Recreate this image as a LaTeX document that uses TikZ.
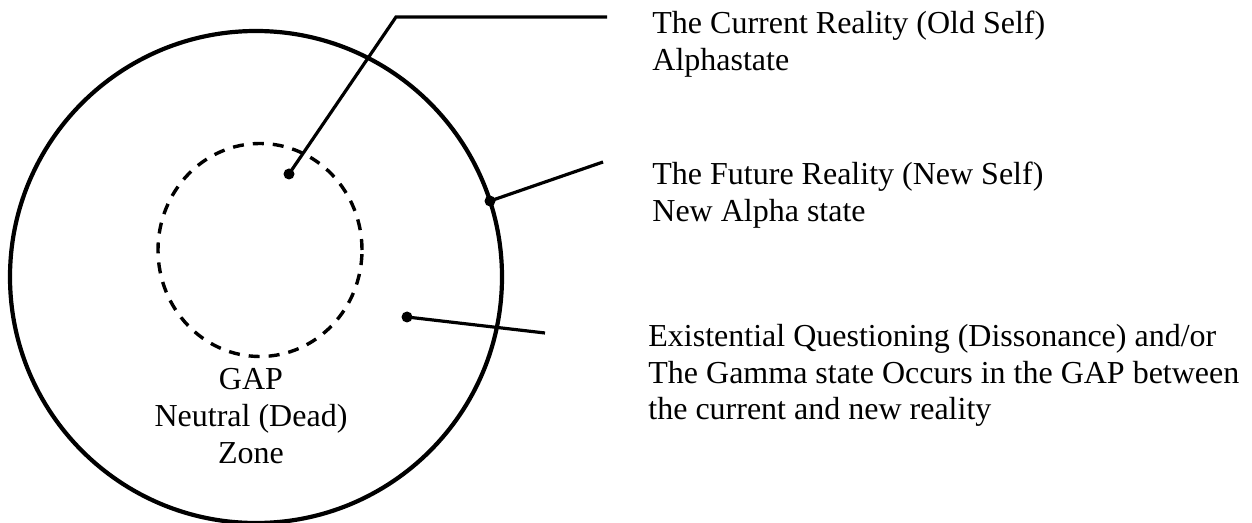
\documentclass[tikz,border=0pt]{standalone}
\usepackage{fontspec}
\setmainfont{Liberation Serif}
\begin{document}
\begin{tikzpicture}[x=0.5pt,y=-0.5pt,
  lbl/.style={inner sep=0pt,font=\fontsize{16}{18.25}\selectfont},
  dotnode/.style={circle,fill=black,inner sep=0pt,minimum size=5.5pt},
  conn/.style={line width=1.6pt},
]
\useasboundingbox (0,0) rectangle (1252,523);
% outer circle
\draw[line width=2.1pt] (256,277) circle[radius=123pt];
% inner dashed circle
\draw[line width=1.7pt,dash pattern=on 5.5pt off 4.5pt] (260,250) circle[x radius=51pt,y radius=53.25pt];
% dots
\node[dotnode] (d1) at (289,174) {};
\node[dotnode] (d2) at (490,201) {};
\node[dotnode] (d3) at (407,317) {};
% connector ends
\coordinate (k1) at (396,17);
\coordinate (e1) at (607,17);
\coordinate (e2) at (603,162);
\coordinate (e3) at (545,333);
\draw[conn] (d1.center) -- (k1) -- (e1);
\draw[conn] (d2.center) -- (e2);
\draw[conn] (d3.center) -- (e3);
% labels (base anchor = baseline of last line)
\node[lbl,anchor=base west,align=left] (t1) at (652,70.5) {The Current Reality (Old Self)\\Alphastate};
\node[lbl,anchor=base west,align=left] (t2) at (652,221.5) {The Future Reality (New Self)\\New Alpha state};
\node[lbl,anchor=base west,align=left] (t3) at (648,420) {Existential Questioning (Dissonance) and/or\\The Gamma state Occurs in the GAP between\\the current and new reality};
\node[lbl,anchor=base,align=center] (gap) at (251,463) {GAP\\Neutral (Dead)\\Zone};
\end{tikzpicture}
\end{document}
